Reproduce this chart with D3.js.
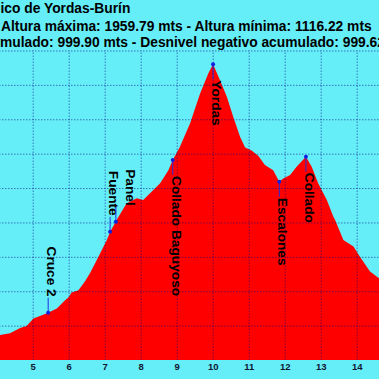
<!DOCTYPE html>
<html><head><meta charset="utf-8">
<script src="https://cdn.jsdelivr.net/npm/d3@7"></script>
<style>html,body{margin:0;padding:0;background:#66EEF8;overflow:hidden}</style>
</head><body><svg id="c" width="379" height="379"></svg>
<script>
// ---- data ----
const titleLine1 = "ico de Yordas-Burín";
const titleLine2 = "Altura máxima: 1959.79 mts - Altura mínima: 1116.22 mts";
const titleLine3 = "Desnivel positivo acumulado: 999.90 mts - Desnivel negativo acumulado: 999.62 mts";
const titleLine3Visible = "mulado: 999.90 mts - Desnivel negativo acumulado: 999.62 mts";

const distanceKm = [3.9, 4.09, 4.37, 4.65, 4.83, 5.02, 5.20, 5.43, 5.67, 5.90, 5.99, 6.08, 6.27, 6.45, 6.59, 6.78, 6.92, 7.06, 7.15, 7.31, 7.33, 7.61, 7.89, 8.07, 8.26, 8.54, 8.77, 8.89, 9.09, 9.37, 9.65, 9.88, 10.01, 10.2, 10.39, 10.57, 10.76, 10.9, 11.08, 11.27, 11.45, 11.68, 11.85, 11.96, 12.15, 12.33, 12.59, 12.75, 12.93, 13.17, 13.35, 13.40, 13.63, 13.91, 14.09, 14.37, 14.62, 14.8];
const elevationM = [1170, 1173, 1178, 1193, 1199, 1221, 1228, 1237.5, 1250, 1274, 1282, 1296, 1303, 1328, 1352, 1391, 1420, 1449, 1473, 1502, 1507, 1556, 1570, 1565, 1585, 1614, 1652, 1681.6, 1720, 1788, 1875, 1934, 1959.79, 1914, 1866, 1807, 1749, 1718, 1709, 1693, 1667, 1652, 1618, 1628, 1638, 1662, 1691, 1662, 1614, 1565, 1517, 1507, 1449, 1430, 1400, 1357, 1338, 1320];

const waypointNames = ["Cruce 2", "Fuente", "Panel", "Collado Baguyoso", "Yordas", "Escalones", "Collado"];
const waypointKm = [5.43, 7.15, 7.31, 8.89, 10.01, 11.85, 12.59];
const waypointElev = [1237.5, 1473, 1502, 1681.6, 1959.79, 1618, 1691];

const xGridValues = [4, 5, 6, 7, 8, 9, 10, 11, 12, 13, 14, 15];
const xTickLabels = [5, 6, 7, 8, 9, 10, 11, 12, 13, 14];
const yTickValues = [1100, 1200, 1300, 1400, 1500, 1600, 1700, 1800, 1900, 2000];

// ---- drawing ----
const svg = d3.select("#c");
const FONT = "'Liberation Sans', Arial, sans-serif";
const plotTop = 50.5, plotBottom = 360;
const x = d3.scaleLinear().domain([4, 15]).range([-3.3, 392.7]);
const y = d3.scaleLinear().domain([1100, 2000]).range([plotBottom, plotTop]);

svg.append("rect").attr("width", 379).attr("height", 379).attr("fill", "#66EEF8");

const profile = distanceKm.map((k, i) => ({ k, e: elevationM[i] }));
const area = d3.area().x(d => x(d.k)).y0(y(1100)).y1(d => y(d.e));
svg.append("path").datum(profile).attr("d", area).attr("fill", "#FF0000");

// grid
const gx = svg.append("g").attr("transform", `translate(0,${plotBottom})`)
  .call(d3.axisBottom(x).tickValues(xGridValues).tickSize(-(plotBottom - plotTop)).tickFormat(""));
gx.select(".domain").remove();
gx.selectAll("line").attr("stroke", "#000080").attr("stroke-opacity", 0.5).attr("stroke-dasharray", "1.5,1.5");

const gy = svg.append("g").attr("transform", "translate(-10,0)")
  .call(d3.axisRight(y).tickValues(yTickValues.filter(v => v > 1100)).tickSize(400).tickFormat(""));
gy.select(".domain").remove();
gy.selectAll("line").attr("stroke", "#000080").attr("stroke-opacity", 0.5).attr("stroke-dasharray", "1.5,1.5");

// x tick labels
const gl = svg.append("g").attr("transform", `translate(0,${plotBottom})`)
  .call(d3.axisBottom(x).tickValues(xTickLabels).tickSize(0).tickPadding(3).tickFormat(d3.format("d")));
gl.select(".domain").remove();
gl.selectAll("text").attr("font-family", FONT).attr("font-weight", "bold")
  .attr("font-size", "9.5px").attr("fill", "#101830");

// waypoints
const mid = (d3.min(elevationM) + d3.max(elevationM)) / 2;
let prevUpX = -100;
waypointNames.forEach((name, i) => {
  const px = x(waypointKm[i]), py = y(waypointElev[i]);
  const up = waypointElev[i] < mid;
  let ax = px - 1;
  if (up) {
    if (Math.abs(ax - prevUpX) < 14) ax = prevUpX + 17;
    prevUpX = ax;
  }
  const ly = up ? py - 16 : py + 16;
  svg.append("line").attr("x1", px).attr("x2", px).attr("y1", py).attr("y2", up ? ly + 1 : ly - 1)
    .attr("stroke", "#2030E0").attr("stroke-width", 1);
  svg.append("text").text(name)
    .attr("transform", `translate(${ax},${ly}) rotate(90)`)
    .attr("text-anchor", up ? "end" : "start")
    .attr("font-family", FONT).attr("font-weight", "bold").attr("font-size", "13.7px")
    .attr("fill", "#000");
  svg.append("circle").attr("cx", px).attr("cy", py).attr("r", 2).attr("fill", "#1020E0");
});

// titles
function titleLine(full, visible, startX, baseY) {
  const t = svg.append("text").text(full).attr("x", 0).attr("y", baseY)
    .attr("font-family", FONT).attr("font-weight", "bold").attr("font-size", "13.8px").attr("fill", "#000");
  const idx = full.indexOf(visible);
  const pre = idx > 0 ? t.node().getSubStringLength(0, idx) : 0;
  t.attr("x", startX - pre);
}
titleLine(titleLine1, titleLine1, 0.5, 13);
titleLine(titleLine2, titleLine2, 1, 30.5);
titleLine(titleLine3, titleLine3Visible, 0, 47);
</script></body></html>
